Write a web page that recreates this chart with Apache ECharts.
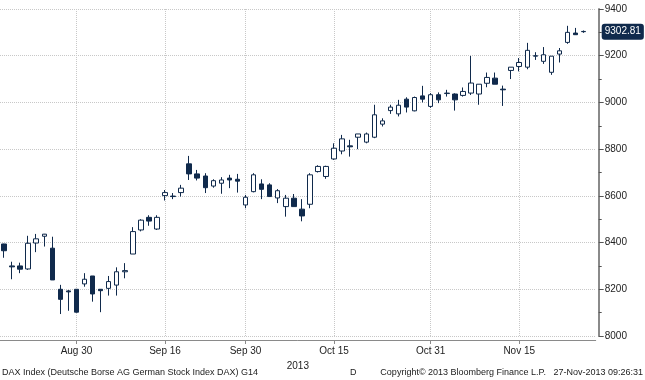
<!DOCTYPE html>
<html><head><meta charset="utf-8">
<script src="https://cdn.jsdelivr.net/npm/echarts@6/dist/echarts.min.js"></script>
<style>html,body{margin:0;padding:0;background:#fff}#c{width:645px;height:380px}</style>
</head><body><div id="c"></div>
<script>
const dates = ['Aug 19','Aug 20','Aug 21','Aug 22','Aug 23','Aug 26','Aug 27','Aug 28','Aug 29','Aug 30',
 'Sep 2','Sep 3','Sep 4','Sep 5','Sep 6','Sep 9','Sep 10','Sep 11','Sep 12','Sep 13','Sep 16','Sep 17','Sep 18','Sep 19','Sep 20','Sep 23','Sep 24','Sep 25','Sep 26','Sep 27','Sep 30',
 'Oct 1','Oct 2','Oct 3','Oct 4','Oct 7','Oct 8','Oct 9','Oct 10','Oct 11','Oct 14','Oct 15','Oct 16','Oct 17','Oct 18','Oct 21','Oct 22','Oct 23','Oct 24','Oct 25','Oct 28','Oct 29','Oct 30','Oct 31',
 'Nov 1','Nov 4','Nov 5','Nov 6','Nov 7','Nov 8','Nov 11','Nov 12','Nov 13','Nov 14','Nov 15','Nov 18','Nov 19','Nov 20','Nov 21','Nov 22','Nov 25','Nov 26','Nov 27'];
const opens  = [8394,8300,8300,8287,8398,8427,8376,8200,8193,8200,
 8223,8257,8200,8204,8218,8275,8351,8454,8508,8458,8601,8599,8614,8737,8694,8685,8642,8654,8676,8671,8561,
 8618,8651,8647,8591,8554,8590,8543,8564,8704,8683,8758,8792,8814,8851,8830,8851,8907,8965,8951,9014,8964,9028,8983,
 9033,9038,9036,9030,9040,9036,9082,9104,9057,9137,9154,9151,9198,9176,9129,9207,9257,9297,9304];
const closes = [8365,8296,8286,8397,8416,8436,8240,8157,8189,8102,
 8243,8180,8194,8233,8275,8280,8447,8496,8492,8508,8614,8597,8633,8694,8676,8635,8665,8668,8668,8663,8594,
 8690,8628,8597,8622,8590,8554,8514,8690,8726,8726,8804,8844,8810,8865,8865,8947,8921,8980,8988,8980,9021,9014,9033,
 9011,9040,9011,9047,9083,9078,9107,9078,9054,9151,9171,9223,9200,9204,9198,9221,9300,9290,9302.81];
const lows   = [8335,8243,8269,8283,8359,8383,8240,8094,8108,8100,
 8211,8147,8102,8173,8173,8247,8351,8448,8472,8454,8580,8586,8597,8668,8666,8612,8635,8609,8633,8614,8547,
 8615,8586,8595,8569,8511,8554,8491,8547,8700,8673,8754,8778,8768,8800,8825,8847,8897,8951,8940,8957,8962,9000,8977,
 8997,9025,8965,9025,9032,8990,9065,9078,8985,9100,9133,9142,9182,9165,9118,9171,9251,9290,9298];
const highs  = [8395,8318,8314,8429,8437,8437,8425,8219,8197,8201,
 8269,8257,8201,8257,8294,8312,8466,8500,8517,8517,8625,8612,8647,8771,8711,8697,8671,8680,8690,8694,8604,
 8697,8671,8654,8629,8604,8608,8586,8697,8731,8729,8825,8861,8840,8865,8871,8990,8932,8990,9011,9022,9025,9071,9040,
 9043,9054,9039,9064,9199,9078,9128,9128,9072,9151,9190,9255,9215,9237,9198,9233,9328,9319,9308];
const tickLabels = ['Aug 30','Sep 16','Sep 30','Oct 15','Oct 31','Nov 15'];
const yearLabel = '2013';
const footerLeft = 'DAX Index (Deutsche Borse AG German Stock Index DAX) G14';
const footerD = 'D';
const footerRight = 'Copyright\u00A9 2013 Bloomberg Finance L.P.   27-Nov-2013 09:26:31';

const NAVY = '#102a4c';
const candleData = dates.map((d, i) => [opens[i], closes[i], lows[i], highs[i]]);
const lastClose = closes[closes.length - 1];
const cats = dates.concat(['']);
const showTick = (idx, val) => tickLabels.indexOf(val) >= 0;

const chart = echarts.init(document.getElementById('c'), null, {renderer: 'canvas'});
chart.setOption({
  animation: false,
  backgroundColor: '#fff',
  textStyle: {fontFamily: 'Liberation Sans, Arial, sans-serif'},
  grid: {left: -3, top: 9, width: 598.7, height: 327, containLabel: false},
  xAxis: {
    type: 'category', data: cats, boundaryGap: true, offset: 4,
    axisLine: {show: true, lineStyle: {color: '#8a8a8a', width: 1}},
    axisTick: {show: true, interval: showTick, alignWithLabel: true, length: 4, lineStyle: {color: '#8a8a8a'}},
    axisLabel: {interval: showTick, fontSize: 10, color: '#222', margin: 6},
    splitLine: {show: false},
    name: yearLabel, nameLocation: 'middle', nameGap: 18,
    nameTextStyle: {fontSize: 10, color: '#222'}
  },
  yAxis: {
    type: 'value', position: 'right', offset: 3, min: 8000, max: 9400, interval: 200,
    axisLine: {show: true, lineStyle: {color: '#8a8a8a', width: 2}},
    axisTick: {show: true, length: 5, lineStyle: {color: '#555'}},
    minorTick: {show: true, splitNumber: 2, length: 3, lineStyle: {color: '#555'}},
    axisLabel: {fontSize: 10, color: '#222', margin: 6, formatter: v => String(v)},
    splitLine: {show: true, lineStyle: {color: '#c8c8c8', type: 'dotted', width: 1}}
  },
  series: [{
    type: 'line', data: [], z: 1, silent: true,
    markLine: {
      z: 1, silent: true, symbol: 'none', animation: false,
      data: tickLabels.map(d => ({xAxis: d})),
      lineStyle: {color: '#c8c8c8', type: 'dotted', width: 1},
      label: {show: false}
    }
  }, {
    type: 'candlestick', z: 3,
    data: candleData,
    barWidth: 5,
    itemStyle: {color: '#ffffff', color0: NAVY, borderColor: NAVY, borderColor0: NAVY, borderWidth: 1},
    markLine: {
      z: 6, silent: true, symbol: 'none', animation: false,
      data: [{yAxis: lastClose}],
      lineStyle: {color: 'rgba(0,0,0,0)', width: 0},
      label: {
        show: true, position: 'end', distance: 6, formatter: lastClose.toFixed(2),
        color: '#fff', fontSize: 10, backgroundColor: NAVY, padding: [3, 3, 3, 3], borderRadius: 3
      }
    }
  }],
  graphic: [
    {type: 'text', left: 2, top: 368, style: {text: footerLeft, font: '9px "Liberation Sans", Arial', fill: '#222'}},
    {type: 'text', left: 350, top: 368, style: {text: footerD, font: '9px "Liberation Sans", Arial', fill: '#222'}},
    {type: 'text', right: 2, top: 368, style: {text: footerRight, font: '9px "Liberation Sans", Arial', fill: '#222'}}
  ]
});
</script></body></html>
